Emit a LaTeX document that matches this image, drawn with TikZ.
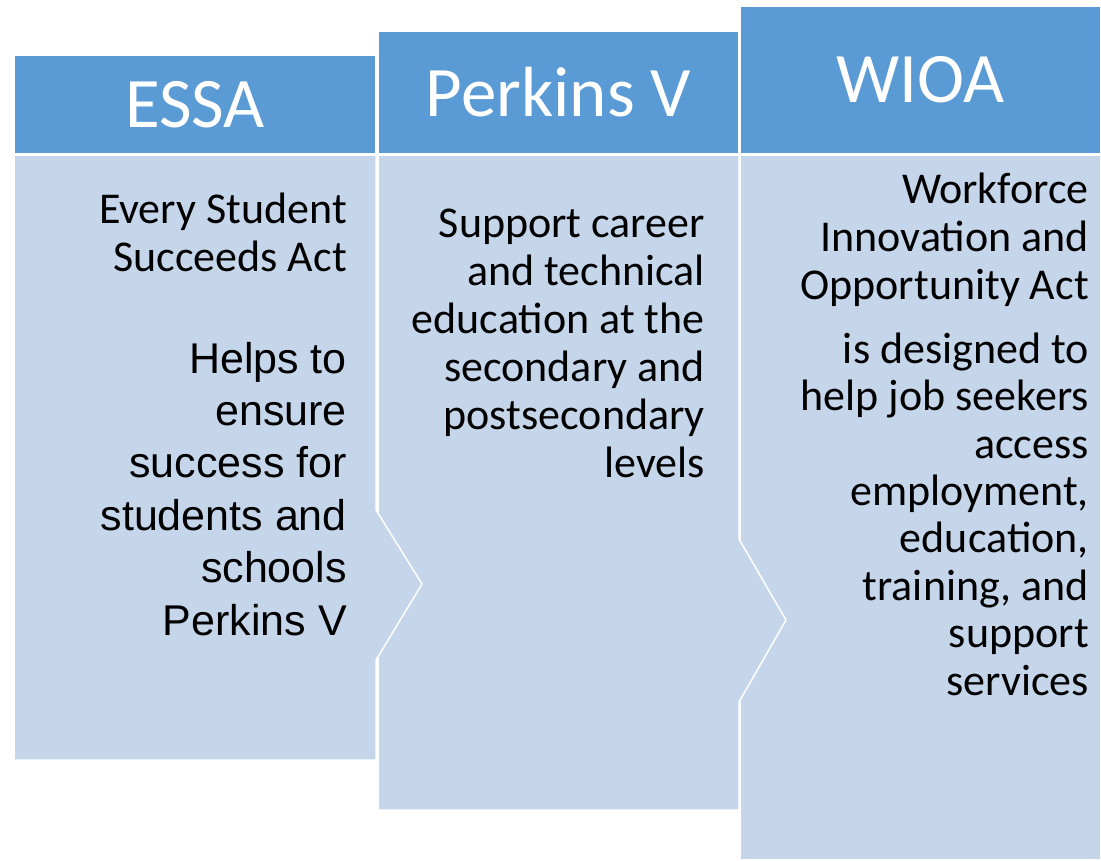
\documentclass[tikz,border=0pt]{standalone}
\usepackage{fontspec}
\setmainfont{Carlito}
\newfontfamily\arialfont{Liberation Sans}
\usepackage{tikz}
\definecolor{hdrblue}{RGB}{91,155,213}
\definecolor{bodyblue}{RGB}{197,213,234}
\tikzset{
  hdr/.style={fill=hdrblue,draw=white,line width=1.5pt,text=white,font=\fontsize{71}{80}\selectfont,inner sep=0pt},
  bodybox/.style={fill=bodyblue,draw=white,line width=1.5pt},
  desc/.style={anchor=base east,align=right,inner sep=0pt,font=\fontsize{44}{48}\selectfont}
}

\begin{document}
\begin{tikzpicture}[x=1pt,y=-1pt]
\useasboundingbox (0,0) rectangle (1101,860);
\draw[bodybox] (740,155) rectangle (1101,860);
\draw[bodybox] (378,155) -- (739,155) -- (739,539) -- (786,620) -- (739,702) -- (739,810) -- (378,810) -- cycle;
\draw[bodybox] (14,155) -- (376,155) -- (376,510) -- (422,584) -- (376,660) -- (376,760) -- (14,760) -- cycle;

\node[hdr,minimum width=362pt,minimum height=99pt] (essa) at (195,104.5) {ESSA};
\node[hdr,minimum width=361pt,minimum height=123pt] (perkins) at (558.5,92.5) {Perkins V};
\node[hdr,minimum width=361pt,minimum height=148pt] (wioa) at (920.5,80) {WIOA};

\node[desc] (essaname) at (347,271) {Every Student\\Succeeds Act};
\node[desc,font=\arialfont\fontsize{43}{52.4}\selectfont] (essatext) at (347,635) {Helps to\\ensure\\success for\\students and\\schools\\Perkins V};
\node[desc] (perkinstext) at (705,477) {Support career\\and technical\\education at the\\secondary and\\postsecondary\\levels};
\node[desc] (wioaname) at (1089,299) {Workforce\\Innovation and\\Opportunity Act};
\node[desc,font=\fontsize{44}{47.4}\selectfont] (wioatext) at (1089,695) {is designed to\\help job seekers\\access\\employment,\\education,\\training, and\\support\\services};
\end{tikzpicture}
\end{document}
